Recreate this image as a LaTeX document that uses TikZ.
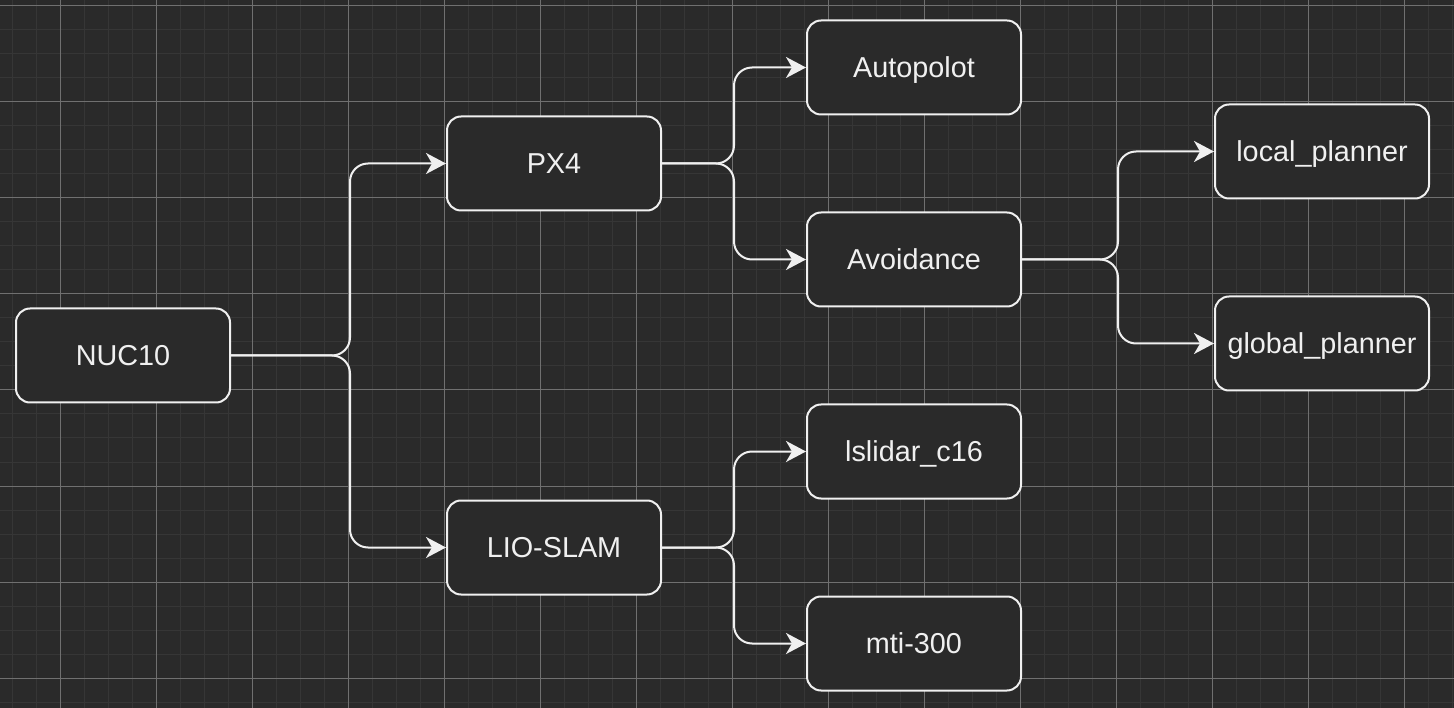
\documentclass[tikz,border=0pt]{standalone}
\usepackage{fontspec}
\setmainfont{Liberation Sans}
\usetikzlibrary{arrows.meta}
\definecolor{bgc}{HTML}{2A2A2A}
\definecolor{minorc}{HTML}{363636}
\definecolor{majorc}{HTML}{707070}
\definecolor{fg}{HTML}{F0F0F0}
\tikzset{
  box/.style={draw=fg, fill=bgc, line width=2pt, rounded corners=14pt,
    minimum width=214pt, minimum height=94pt, inner sep=0pt,
    text height=20.5pt, text depth=0pt,
    text=fg, font=\fontsize{28.8}{34}\selectfont},
  conn/.style={draw=fg, line width=2pt, rounded corners=18pt,
    -{Stealth[length=20pt, width=21pt, inset=6pt]}},
  minorline/.style={draw=minorc, line width=1pt},
  majorline/.style={draw=majorc, line width=1pt}
}
\begin{document}
\begin{tikzpicture}[x=1pt, y=-1pt]
\fill[bgc] (0,0) rectangle (1454,708);
\useasboundingbox (0,0) rectangle (1454,708);
\foreach \x in {12,36,...,1452} \draw[minorline] (\x,0) -- (\x,708);
\foreach \y in {6,30,...,706} \draw[minorline] (0,\y) -- (1454,\y);
\foreach \x in {60,156,...,1452} \draw[majorline] (\x,0) -- (\x,708);
\foreach \y in {6,102,...,706} \draw[majorline] (0,\y) -- (1454,\y);

\node[box] (nuc) at (123,355.5) {NUC10};
\node[box] (px4) at (554,163.5) {PX4};
\node[box] (lio) at (554,547.5) {LIO-SLAM};
\node[box] (auto) at (914,67.5) {Autopolot};
\node[box] (avoid) at (914,259.5) {Avoidance};
\node[box] (lslidar) at (914,451.5) {lslidar\_c16};
\node[box] (mti) at (914,643.5) {mti-300};
\node[box] (local) at (1322,151.5) {local\_planner};
\node[box] (global) at (1322,343.5) {global\_planner};

\coordinate (e1) at (350,355.5);
\coordinate (e2) at (734,163.5);
\coordinate (e3) at (734,547.5);
\coordinate (e4) at (1118,259.5);

\draw[conn] (nuc.east) -- (e1) |- (px4.west);
\draw[conn] (nuc.east) -- (e1) |- (lio.west);
\draw[conn] (px4.east) -- (e2) |- (auto.west);
\draw[conn] (px4.east) -- (e2) |- (avoid.west);
\draw[conn] (lio.east) -- (e3) |- (lslidar.west);
\draw[conn] (lio.east) -- (e3) |- (mti.west);
\draw[conn] (avoid.east) -- (e4) |- (local.west);
\draw[conn] (avoid.east) -- (e4) |- (global.west);
\end{tikzpicture}
\end{document}
